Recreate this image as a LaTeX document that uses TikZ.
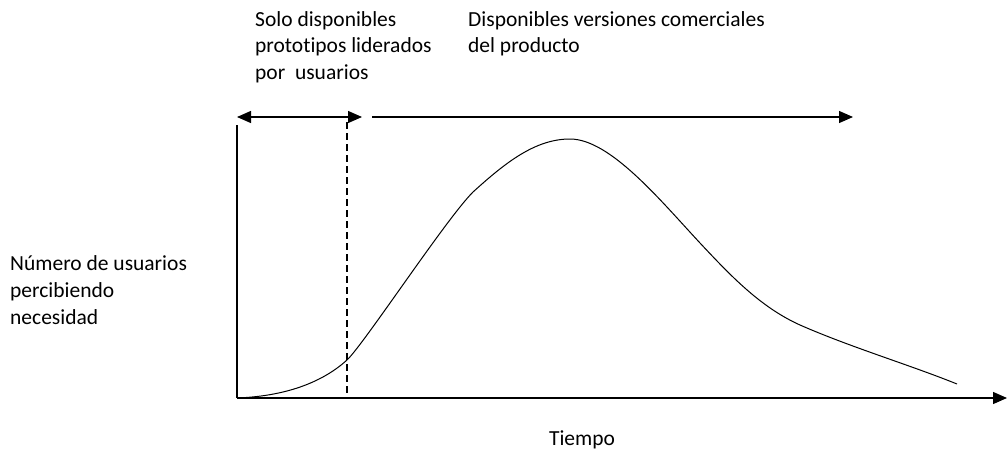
\documentclass[tikz,border=0pt]{standalone}
\usepackage{fontspec}
\setmainfont[Ligatures=NoCommon]{Carlito}
\usepackage{tikz}
\usetikzlibrary{calc,positioning,arrows.meta}
\tikzset{
  label/.style={
      anchor=north west,
      align=left,
      inner sep=0pt,
      font=\fontsize{21.5}{26.5}\selectfont,
  },
  axis/.style={
      line width=1.3pt,
  },
  periodo/.style={
      line width=1.3pt,
      >={Triangle[length=14pt,width=12pt]},
  },
}
\begin{document}
\begin{tikzpicture}[x=1pt,y=-1pt]
  \useasboundingbox (0,0) rectangle (1008,455);
  % ejes
  \coordinate (origen) at (237,398);
  \coordinate (ytop) at (237,125);
  \coordinate (xend) at (1007,398);
  \draw[axis] (ytop) -- (origen);
  \draw[periodo,->] (origen) -- (xend);

  % periodos
  \coordinate (prot1) at (237,117);
  \coordinate (prot2) at (362,117);
  \coordinate (com1) at (372,117);
  \coordinate (com2) at (853,117);
  \draw[periodo,<->] (prot1) -- (prot2);
  \draw[periodo,->] (com1) -- (com2);
  \coordinate (corte) at (347,122);
  \draw[dash pattern=on 7pt off 4pt,line width=1.1pt] (corte) -- (corte |- origen);

  % curva
  \draw[line width=1pt] (origen)
    .. controls (290,396) and (325,380) .. (347,360)
    .. controls (364,344) and (446,219) .. (473,192)
    .. controls (505,163) and (535,139) .. (570,139)
    .. controls (610,139) and (660,200) .. (700,243)
    .. controls (730,275) and (760,307) .. (800,325)
    .. controls (850,347) and (910,365) .. (957,384);

  % textos
  \node (solo) [label] at (255,11) {Solo disponibles\\prototipos liderados\\por \ usuarios};
  \node (comerciales) [label] at (468,11) {Disponibles versiones comerciales\\del producto};
  \node (usuarios) [label,font=\fontsize{21.5}{27}\selectfont] at (10,255) {Número de usuarios\\percibiendo\\necesidad};
  \node (tiempo) [label,anchor=north] at (582,431) {Tiempo};
\end{tikzpicture}
\end{document}
